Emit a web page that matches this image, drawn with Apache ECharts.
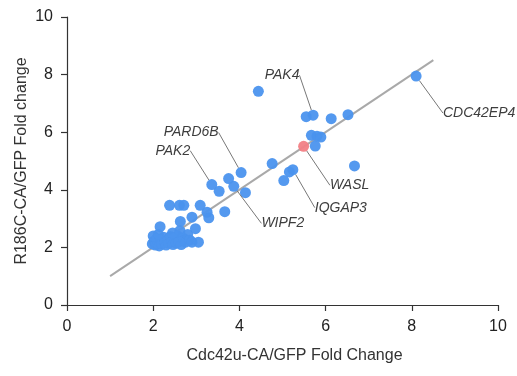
<!DOCTYPE html>
<html>
<head>
<meta charset="utf-8">
<script src="https://cdn.jsdelivr.net/npm/echarts@6/dist/echarts.min.js"></script>
<style>
  html, body { margin: 0; padding: 0; background: #fff; }
  #chart_box { width: 517px; height: 376px; }
</style>
</head>
<body>
<div id="chart_box"></div>
<script>
// unlabelled genes: [Cdc42u-CA fold, R186C-CA fold]
var otherPoints = [
  [1.98, 2.12], [2.02, 2.22], [2.05, 2.08], [2.08, 2.30], [2.10, 2.15], [2.14, 2.05],
  [2.17, 2.25], [2.20, 2.12], [2.24, 2.35], [2.27, 2.18], [2.30, 2.08], [2.33, 2.28],
  [2.36, 2.15], [2.40, 2.38], [2.43, 2.22], [2.46, 2.10], [2.50, 2.30], [2.53, 2.15],
  [2.57, 2.40], [2.60, 2.20], [2.65, 2.10], [2.70, 2.32], [2.75, 2.18], [2.80, 2.45],
  [2.85, 2.25], [2.90, 2.18], [3.05, 2.18], [2.00, 2.40], [2.12, 2.45], [2.45, 2.50],
  [2.62, 2.58], [2.98, 2.65], [2.16, 2.72], [2.63, 2.90], [2.90, 3.05],
  [2.38, 3.46], [2.61, 3.46], [2.71, 3.46], [3.09, 3.46], [3.25, 3.22], [3.29, 3.03],
  [3.66, 3.24], [3.53, 3.95], [3.75, 4.39], [4.14, 3.90], [4.76, 4.91], [5.03, 4.32],
  [5.16, 4.62], [4.44, 7.42], [5.55, 6.54], [6.13, 6.47], [6.52, 6.61], [5.67, 5.89],
  [5.80, 5.86], [5.89, 5.83], [5.76, 5.52], [6.67, 4.83]
];
// labelled genes
var geneNames = ["PAK4", "CDC42EP4", "PARD6B", "PAK2", "WIPF2", "IQGAP3", "WASL"];
var geneX = [5.71, 8.10, 4.04, 3.36, 3.87, 5.24, 5.49];
var geneY = [6.59, 7.95, 4.60, 4.18, 4.12, 4.70, 5.51];
// identity reference line
var refLine = [[1, 1], [8.5, 8.5]];
var axisTicks = [0, 2, 4, 6, 8, 10];

// label offsets (px) from each point
var labelOffset = {
  PAK4: [-31, -40], CDC42EP4: [63, 37], PARD6B: [-50, -40], PAK2: [-39, -34],
  WIPF2: [49, 37], IQGAP3: [48, 38], WASL: [46, 39]
};
var blue = "#4b93ee";
var red = "#f27f85";

var geneData = geneNames.map(function (n, i) {
  var item = { name: n, value: [geneX[i], geneY[i]] };
  if (n === "WASL") item.itemStyle = { color: red };
  return item;
});

var axisCommon = {
  type: "value",
  min: axisTicks[0],
  max: axisTicks[axisTicks.length - 1],
  interval: 2,
  splitLine: { show: false },
  axisLine: { show: true, lineStyle: { color: "#333", width: 1.2 } },
  axisTick: { show: true, length: 6, lineStyle: { color: "#333", width: 1.2 } },
  nameLocation: "middle",
  nameMoveOverlap: false,
  nameTextStyle: { fontSize: 16, color: "#333", fontFamily: "Liberation Sans" }
};

var myecharts = echarts.init(document.getElementById("chart_box"));
var option = {
  animation: false,
  grid: { left: 67, right: 19, top: 17, bottom: 71 },
  xAxis: Object.assign({}, axisCommon, {
    name: "Cdc42u-CA/GFP Fold Change",
    nameGap: 43,
    nameTextStyle: { fontSize: 16, color: "#333", fontFamily: "Liberation Sans", padding: [0, 0, 0, 24] },
    axisLabel: { fontSize: 16, color: "#222", margin: 14, fontFamily: "Liberation Sans" }
  }),
  yAxis: Object.assign({}, axisCommon, {
    name: "R186C-CA/GFP Fold change",
    nameGap: 37,
    axisLabel: { fontSize: 16, color: "#222", margin: 14, fontFamily: "Liberation Sans" }
  }),
  series: [
    {
      type: "line",
      data: refLine,
      showSymbol: false,
      lineStyle: { color: "#a9a9a9", width: 2 },
      silent: true,
      z: 1
    },
    {
      type: "scatter",
      data: otherPoints,
      symbolSize: 11,
      itemStyle: { color: blue, opacity: 0.95 },
      z: 2
    },
    {
      type: "scatter",
      data: geneData,
      symbolSize: 11,
      itemStyle: { color: blue, opacity: 0.95 },
      z: 3,
      label: {
        show: true,
        position: "inside",
        formatter: "{b}",
        fontSize: 14,
        fontStyle: "italic",
        color: "#333",
        fontFamily: "Liberation Sans",
        padding: 3
      },
      labelLine: { show: true, lineStyle: { color: "#777", width: 1 } },
      labelLayout: function (params) {
        var off = labelOffset[geneNames[params.dataIndex]];
        return { dx: off[0], dy: off[1] };
      }
    }
  ]
};
myecharts.setOption(option);
</script>
</body>
</html>
